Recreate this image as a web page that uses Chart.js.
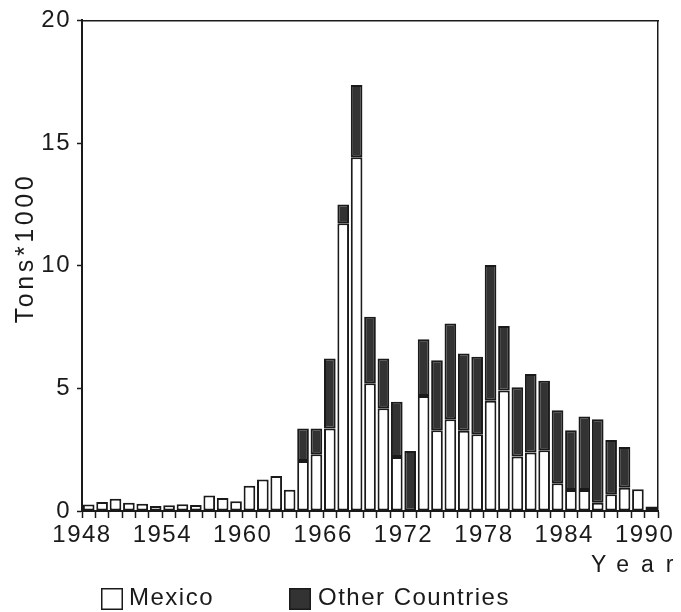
<!DOCTYPE html>
<html>
<head>
<meta charset="utf-8">
<title>Tons*1000 by Year</title>
<script src="https://cdn.jsdelivr.net/npm/chart.js@4/dist/chart.umd.min.js"></script>
<style>
  html, body { margin: 0; padding: 0; background: #ffffff; }
  #wrap { width: 681px; height: 612px; position: relative; }
</style>
</head>
<body>
<div id="wrap"><canvas id="chart" width="681" height="612"></canvas></div>
<script>
// Years shown on the chart (one bar per year)
const years = [1948, 1949, 1950, 1951, 1952, 1953, 1954, 1955, 1956, 1957, 1958, 1959,
  1960, 1961, 1962, 1963, 1964, 1965, 1966, 1967, 1968, 1969, 1970, 1971, 1972,
  1973, 1974, 1975, 1976, 1977, 1978, 1979, 1980, 1981, 1982, 1983, 1984, 1985,
  1986, 1987, 1988, 1989, 1990];

// Tons*1000 from Mexico
const mexico = [0.27, 0.37, 0.50, 0.34, 0.30, 0.20, 0.23, 0.28, 0.24, 0.63, 0.53, 0.40,
  1.03, 1.28, 1.43, 0.87, 2.04, 2.31, 3.36, 11.73, 14.42, 5.21, 4.19, 2.20, 0,
  4.69, 3.29, 3.74, 3.27, 3.13, 4.49, 4.91, 2.22, 2.38, 2.48, 1.13, 0.86, 0.86,
  0.34, 0.68, 0.95, 0.89, 0.18];

// Tons*1000 from other countries (stacked on top of Mexico)
const otherCountries = [0, 0, 0, 0, 0, 0, 0, 0, 0, 0, 0, 0,
  0, 0, 0, 0, 1.32, 1.05, 2.86, 0.76, 2.95, 2.71, 2.03, 2.25, 2.45,
  2.31, 2.86, 3.90, 3.15, 3.16, 5.54, 2.63, 2.82, 3.20, 2.83, 2.98, 2.43, 2.99,
  3.40, 2.21, 1.66, 0, 0];

// Labelled year ticks on the x axis and value ticks on the y axis
const xTickLabels = ['1948', '1954', '1960', '1966', '1972', '1978', '1984', '1990'];
const yTickValues = [0, 5, 10, 15, 20];

const seriesNames = ['Mexico', 'Other Countries'];
const yTitle = 'Tons*1000';
const xTitle = 'Year';

const INK = '#1a1a1a';
const DARK = '#333333';
const FONT = '"Liberation Sans", Arial, Helvetica, sans-serif';

// each bar fills the span from its year to the next one
const toPoints = vals => vals.map((v, i) => ({ x: years[i] + 0.5, y: v }));

// Text spacing, axis titles and the legend row under the chart
const textPlugin = {
  id: 'textExtras',
  beforeDraw(chart) {
    chart.ctx.letterSpacing = '1.5px';
  },
  afterDraw(chart) {
    const ctx = chart.ctx;
    ctx.save();
    ctx.fillStyle = INK;

    // y axis title, rotated
    ctx.save();
    ctx.font = '25px ' + FONT;
    ctx.letterSpacing = '3.6px';
    ctx.translate(33, 248);
    ctx.rotate(-Math.PI / 2);
    ctx.textAlign = 'center';
    ctx.textBaseline = 'alphabetic';
    ctx.fillText(yTitle, 0, 0);
    ctx.restore();

    // x axis title, spaced out at the right end
    ctx.save();
    ctx.font = '23px ' + FONT;
    ctx.letterSpacing = '12px';
    ctx.textAlign = 'left';
    ctx.textBaseline = 'alphabetic';
    ctx.fillText(xTitle, 591, 572);
    ctx.restore();

    // legend
    const items = [
      { x: 101, textX: 129 },
      { x: 289, textX: 318 }
    ];
    ctx.font = '24px ' + FONT;
    ctx.letterSpacing = '1.5px';
    ctx.textBaseline = 'alphabetic';
    chart.data.datasets.forEach((ds, i) => {
      const it = items[i];
      ctx.fillStyle = ds.backgroundColor;
      ctx.fillRect(it.x, 588, 22, 22);
      ctx.lineWidth = 1.5;
      ctx.strokeStyle = ds.borderColor;
      ctx.strokeRect(it.x + 0.75, 588.75, 20.5, 20.5);
      ctx.fillStyle = INK;
      ctx.fillText(ds.label, it.textX, 605);
    });
    ctx.restore();
  }
};

new Chart(document.getElementById('chart'), {
  type: 'bar',
  data: {
    datasets: [
      {
        label: seriesNames[0],
        data: toPoints(mexico),
        backgroundColor: '#ffffff',
        borderColor: INK,
        borderWidth: 2,
        borderSkipped: false,
        categoryPercentage: 1,
        barPercentage: 0.87
      },
      {
        label: seriesNames[1],
        data: toPoints(otherCountries),
        backgroundColor: DARK,
        borderColor: INK,
        borderWidth: 2,
        borderSkipped: false,
        categoryPercentage: 1,
        barPercentage: 0.87
      }
    ]
  },
  options: {
    responsive: false,
    animation: false,
    devicePixelRatio: 1,
    layout: { padding: { left: 0, right: 23, top: 20, bottom: 61 } },
    plugins: {
      legend: { display: false },
      tooltip: { enabled: false }
    },
    scales: {
      x: {
        type: 'linear',
        position: 'bottom',
        stacked: true,
        min: years[0],
        max: years[years.length - 1] + 1,
        offset: false,
        grid: {
          offset: false,
          drawOnChartArea: false,
          drawTicks: true,
          tickLength: 7,
          tickWidth: 1.5,
          tickColor: INK
        },
        border: { display: true, color: INK, width: 2 },
        ticks: {
          stepSize: 1,
          maxTicksLimit: 100,
          autoSkip: false,
          maxRotation: 0,
          minRotation: 0,
          padding: 3,
          color: INK,
          font: { family: FONT, size: 24 },
          callback: v => (xTickLabels.includes(String(v)) ? String(v) : '')
        },
        afterFit: s => { s.height = 40; }
      },
      y: {
        type: 'linear',
        position: 'left',
        stacked: true,
        min: 0,
        max: 20,
        grid: {
          drawOnChartArea: false,
          drawTicks: true,
          tickLength: 5,
          tickWidth: 1.5,
          tickColor: INK
        },
        border: { display: true, color: INK, width: 2 },
        ticks: {
          stepSize: 5,
          padding: 6,
          color: INK,
          font: { family: FONT, size: 24 },
          callback: v => (yTickValues.includes(v) ? String(v) : '')
        },
        afterFit: s => { s.width = 82; }
      },
      xTop: {
        type: 'linear',
        position: 'top',
        display: true,
        grid: { drawOnChartArea: false, drawTicks: false },
        border: { display: true, color: INK, width: 1.5 },
        ticks: { display: false },
        afterFit: s => { s.height = 0; }
      },
      yRight: {
        type: 'linear',
        position: 'right',
        display: true,
        grid: { drawOnChartArea: false, drawTicks: false },
        border: { display: true, color: INK, width: 1.5 },
        ticks: { display: false },
        afterFit: s => { s.width = 0; }
      }
    }
  },
  plugins: [textPlugin]
});
</script>
</body>
</html>
